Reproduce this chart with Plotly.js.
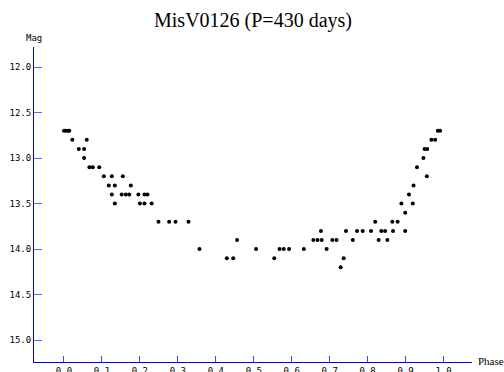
<!DOCTYPE html>
<html>
<head>
<meta charset="utf-8">
<script src="https://cdn.plot.ly/plotly-3.0.1.min.js"></script>
<style>html,body{margin:0;padding:0;background:#fff;}#chart{width:504px;height:372px;}</style>
</head>
<body>
<div id="chart"></div>
<script>
const phase = [0.000,0.005,0.011,0.014,0.022,0.060,0.039,0.053,0.053,0.067,0.076,0.093,0.105,0.126,0.155,0.118,0.134,0.176,0.126,0.152,0.163,0.172,0.196,0.212,0.220,0.134,0.200,0.212,0.231,0.249,0.277,0.294,0.328,0.357,0.429,0.446,0.456,0.506,0.554,0.568,0.579,0.593,0.632,0.657,0.668,0.679,0.677,0.692,0.707,0.718,0.729,0.737,0.743,0.761,0.772,0.787,0.809,0.820,0.829,0.836,0.846,0.852,0.865,0.879,0.867,0.899,0.899,0.889,0.919,0.909,0.921,0.930,0.956,0.947,0.950,0.957,0.968,0.978,0.985,0.991];
const mag = [12.7,12.7,12.7,12.7,12.8,12.8,12.9,12.9,13.0,13.1,13.1,13.1,13.2,13.2,13.2,13.3,13.3,13.3,13.4,13.4,13.4,13.4,13.4,13.4,13.4,13.5,13.5,13.5,13.5,13.7,13.7,13.7,13.7,14.0,14.1,14.1,13.9,14.0,14.1,14.0,14.0,14.0,14.0,13.9,13.9,13.9,13.8,14.0,13.9,13.9,14.2,14.1,13.8,13.9,13.8,13.8,13.8,13.7,13.9,13.8,13.8,13.9,13.7,13.7,13.8,13.8,13.6,13.5,13.5,13.4,13.3,13.1,13.2,13.0,12.9,12.9,12.8,12.8,12.7,12.7];
const xTicks = [0,0.1,0.2,0.3,0.4,0.5,0.6,0.7,0.8,0.9,1.0];
const yTicks = [12.0,12.5,13.0,13.5,14.0,14.5,15.0];

const tickFont = {family: '"DejaVu Sans Mono", monospace', size: 9, color: '#000'};
const data = [{
  x: phase, y: mag, type: 'scatter', mode: 'markers',
  marker: {color: '#000', size: 4, symbol: 'circle'},
  hoverinfo: 'skip'
}];
const layout = {
  width: 504, height: 372,
  margin: {l: 34, r: 32, t: 47, b: 10},
  paper_bgcolor: '#fff', plot_bgcolor: '#fff',
  showlegend: false,
  title: {text: 'MisV0126 (P=430 days)', x: 0.5, xref: 'paper', xanchor: 'center', y: 0.947, yref: 'container', yanchor: 'middle',
          font: {family: '"Liberation Serif", "Times New Roman", serif', size: 20, color: '#000'}},
  xaxis: {
    range: [-0.079, 1.075], tickvals: xTicks, ticktext: xTicks.map(v => v.toFixed(1)),
    showgrid: false, zeroline: false, showline: true, linecolor: '#0000ff', linewidth: 1,
    ticks: 'inside', ticklen: 6, tickcolor: '#4444ff', tickwidth: 1, tickfont: tickFont
  },
  yaxis: {
    range: [15.24, 11.78], tickvals: yTicks, ticktext: yTicks.map(v => v.toFixed(1)),
    showgrid: false, zeroline: false, showline: true, linecolor: '#0000ff', linewidth: 1,
    ticks: 'inside', ticklen: 8, tickcolor: '#6666ff', tickwidth: 1, tickfont: tickFont
  },
  annotations: [
    {text: 'Mag', xref: 'paper', yref: 'paper', x: 0, y: 1.029, xanchor: 'center', yanchor: 'middle', showarrow: false,
     font: {family: '"DejaVu Sans Mono", monospace', size: 9, color: '#000'}},
    {text: 'Phase', xref: 'paper', yref: 'paper', x: 1.009, y: 0.003, xanchor: 'left', yanchor: 'middle', showarrow: false,
     font: {family: '"Liberation Serif", serif', size: 11, color: '#000'}}
  ]
};
Plotly.newPlot('chart', data, layout, {displayModeBar: false, staticPlot: true});
</script>
</body>
</html>
